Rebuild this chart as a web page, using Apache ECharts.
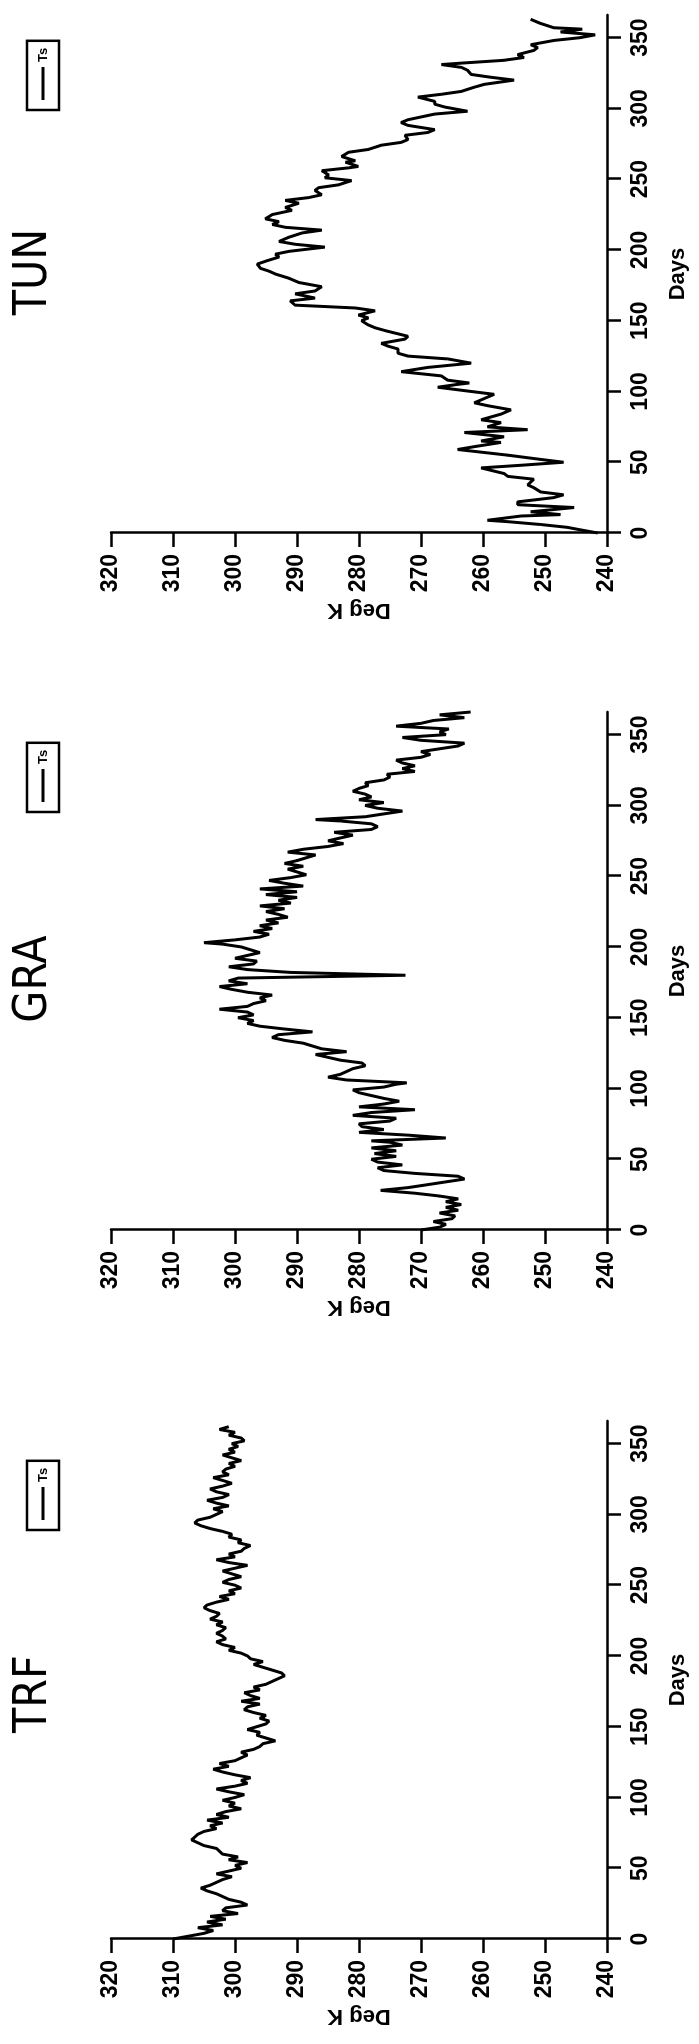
<!DOCTYPE html>
<html><head><meta charset="utf-8">
<script src="https://cdn.jsdelivr.net/npm/echarts@6/dist/echarts.min.js"></script>
<style>
html,body{margin:0;padding:0;background:#fff;overflow:hidden;width:699px;height:2044px;}
#wrap{position:absolute;left:0;top:0;width:2044px;height:699px;transform-origin:0 0;transform:translate(0px,2044px) rotate(-90deg);}
</style></head><body><div id="wrap"></div>
<script>
// Panels in the original (landscape) order, left to right
const panelNames = ['TRF', 'GRA', 'TUN'];
const seriesName = 'Ts';
const dayTicks = [0, 50, 100, 150, 200, 250, 300, 350];
const degTicks = [240, 250, 260, 270, 280, 290, 300, 310, 320];

const tunDays = [0,2,4,6,8,9,12,13,15,18,20,22,25,27,29,32,34,38,40,42,46,48,50,52,55,59,61,64,65,68,71,73,75,78,80,84,87,90,92,95,98,100,103,105,106,108,111,114,117,120,123,125,127,130,132,134,137,139,143,145,147,150,152,154,157,159,161,164,166,169,171,174,177,180,183,185,187,190,192,195,197,199,202,204,206,209,212,214,216,218,220,222,225,228,230,233,235,237,239,242,244,246,249,251,253,256,258,259,262,263,266,269,271,274,276,278,281,283,285,288,290,292,296,298,301,303,305,308,310,312,315,317,320,322,324,327,329,331,332,334,336,338,341,343,345,348,350,352,354,356,357,360,362,363];
const tunTs = [241.5,244,246.4,250.7,256,259.3,253.9,247.5,252.3,245.3,254.4,254.4,248.6,247,250.7,251.8,252.8,251.8,256,256.6,260.3,253.4,247,250.7,256,264.1,261.4,257.1,260.3,256.6,263,252.8,259.3,257.1,260.3,257.1,255.5,259.3,261.4,259.8,258.2,261.9,267.3,264.1,262.2,265.7,266.7,273.2,268.9,261.9,265.7,272.1,273.7,273.7,275.3,276.4,272.6,272.1,275.8,277.4,278.5,279.6,278.5,280.1,277.4,280.6,290.3,291.1,287.1,290.3,287.1,286,289.7,291.3,293.5,294.5,295.9,296.4,295.1,292.9,293.5,291.3,285.5,290.3,292.9,291.3,289.2,286,291.9,294,292.9,295.1,294,290.8,291.9,289.7,291.9,288.1,286,287.1,286.5,283.3,281.2,285.5,284.9,286,281.7,280.1,282.2,280.6,282.8,281.7,278.5,276.4,273.2,272.1,272.6,268.9,267.8,272.1,273.2,272.1,267.8,262.5,266.2,267.8,267.8,270.5,266.7,263.5,261.4,259.8,255,258.7,261.9,262.5,263.5,266.7,263.5,256.6,253.4,254.4,251.8,251.2,252.3,248.6,244.3,241.9,247.5,244,248.6,250.7,251.8,252.3];

const graDays = [0,2,4,6,8,10,12,14,16,18,20,22,24,26,28,30,32,34,36,38,40,42,44,46,48,50,52,54,56,58,60,62,63,65,67,69,71,73,75,77,79,81,83,85,87,89,91,93,95,97,99,101,103,104,106,108,110,112,114,116,118,120,122,124,126,128,130,132,134,136,138,140,142,144,146,148,150,152,154,156,158,160,162,164,166,168,170,172,174,176,178,180,182,184,186,188,190,192,194,196,198,200,202,203,205,207,209,211,213,215,217,219,221,223,225,227,229,231,233,235,237,239,241,243,245,247,249,251,253,255,257,259,261,263,265,267,269,271,273,275,277,279,281,283,285,287,289,290,292,294,296,298,300,302,304,306,308,310,312,314,316,318,320,322,324,326,328,330,332,334,336,338,340,342,344,346,348,350,352,354,356,358,360,362,364,366];
const graTs = [270,267,266,268,265,264.5,267,264,266,263.5,266,264,267,271,276.5,272,269,266,263,264,271,276,277,273,277,278,274,277.5,274,278,273,275,278,266,272,280,276,279.5,280,275,274,281,278,271,280,276,273.5,276,278,280,281,276,274,272.3,282,285,283,282,281,279,279.5,283,285,287,282,286,287.5,289,292,294,293,287.5,292,296,298,297,299.5,297,298,302.5,298,297,295,296,294,298,300.5,302.5,298,301,299.5,272.5,291,298,301,297,296.5,300,298,296,297.5,299,302,305,300,296,294.5,297,294,296,293,295,291.5,293,295,292,296,291,293,290,295,290,296,289,292,294.5,291,288.5,290,291.5,289,292,290,288.5,287,291.5,289,285,282.5,285,283,281,284,278,277,278,283,287,279,276,273,277,279,276,280,278,279,281,280,278.5,279,276,275,275.5,271,273,271,273,274,270,268.5,270,267,264,263,270,273,266,267,265.5,274,270,268,263,267,262];

const trfDays = [0,2,4,6,8,10,12,14,16,18,20,22,24,26,28,30,32,34,36,38,40,42,44,46,48,50,52,54,56,58,60,62,64,66,68,70,72,74,76,78,80,82,84,86,88,90,92,94,96,98,100,102,104,106,108,110,112,114,116,118,120,122,124,126,128,130,132,134,136,138,140,142,144,146,148,150,152,154,156,158,160,162,164,166,168,170,172,174,176,178,180,182,184,186,188,190,192,194,196,198,200,202,204,206,208,210,212,214,216,218,220,222,224,226,228,230,232,234,236,238,240,242,244,246,248,250,252,254,256,258,260,262,264,266,268,270,272,274,276,278,280,282,284,286,288,290,292,294,296,298,300,302,304,306,308,310,312,314,316,318,320,322,324,326,328,330,332,334,336,338,340,342,344,346,348,350,352,354,356,358,360,362];
const trfTs = [310,307.5,305,303.5,306,302,304.5,301.5,304,299.5,302,301.5,298,299,301,302,303,304.5,305.5,304,303,302,300.5,303,301,299,300,298,301,299.5,302,302.5,303,305,306,307,306.5,306,305,303,304,302,304.5,301,303,301.5,299,301,300,302,300,298.5,301,303,300,298,299,297.5,300,302,303.5,301,302.5,300,299,298,299,297,296,295.5,293.5,295,296.5,296,298,296.5,295,294.5,296,295,297,298.5,298,296,299,296,297.5,298.5,296,297,295,294,293,292,292.5,294,295.5,297,295.5,297.5,298,299,301,300,302,303,301.5,302,303,302,301.5,303,302,304,303,302.5,304,305,304.5,303,301,302.5,300,301,299,300,302,301,299,300.5,302,300,298,301,303,300,301,299,298.5,297.5,299.5,299,301,300.5,302,304,305.5,306.5,306,304,303,302,303.5,301,303,304.5,302,301,303,304,302,300.5,302,303.5,301,302,301.5,300,301,299,300.5,302,300,301,299.5,300.5,298.5,299,301,300,302.5,301];

const panelDays = [trfDays, graDays, tunDays];
const panelTs = [trfTs, graTs, tunTs];

// layout (in the unrotated landscape frame)
const gridLefts = [105, 814, 1511];
const gridW = 518, gridTop = 111, gridH = 496;
const titleOffsets = [245, 251, 261];
const legendOffsets = [409, 418, 423];
const FONT = "'Liberation Sans', Arial, sans-serif";
const TITLE_FONT = "'Liberation Sans Narrow', 'DejaVu Sans Condensed', 'Liberation Sans', sans-serif";

const grids = [], xAxes = [], yAxes = [], series = [], legends = [], graphics = [];
panelNames.forEach((name, i) => {
  grids.push({left: gridLefts[i], top: gridTop, width: gridW, height: gridH});
  xAxes.push({
    gridIndex: i, type: 'value', min: 0, max: 366,
    axisLine: {show: true, onZero: false, lineStyle: {color: '#000', width: 2.5}},
    axisTick: {show: true, customValues: dayTicks, length: 14, lineStyle: {color: '#000', width: 2.5}},
    axisLabel: {customValues: dayTicks, margin: 22, fontSize: 23, fontWeight: 'bold', color: '#000', fontFamily: FONT},
    splitLine: {show: false},
    name: 'Days', nameLocation: 'middle', nameGap: 60,
    nameTextStyle: {fontSize: 22, fontWeight: 'bold', color: '#000', fontFamily: FONT}
  });
  yAxes.push({
    gridIndex: i, type: 'value', min: 240, max: 320, interval: 10,
    axisLine: {show: true, onZero: false, lineStyle: {color: '#000', width: 2.5}},
    axisTick: {show: true, length: 14, lineStyle: {color: '#000', width: 2.5}},
    axisLabel: {margin: 21, fontSize: 23, fontWeight: 'bold', color: '#000', fontFamily: FONT},
    splitLine: {show: false},
    name: 'Deg K', nameLocation: 'middle', nameGap: 66,
    nameTextStyle: {fontSize: 22, fontWeight: 'bold', color: '#000', fontFamily: FONT}
  });
  series.push({
    type: 'line', name: seriesName, xAxisIndex: i, yAxisIndex: i,
    symbol: 'none', lineStyle: {color: '#000', width: 3}, itemStyle: {color: '#000'},
    data: panelDays[i].map((d, k) => [d, panelTs[i][k]])
  });
  legends.push({
    data: [seriesName], left: gridLefts[i] + legendOffsets[i], top: 27,
    borderColor: '#000', borderWidth: 2.5, borderRadius: 0, padding: [8, 7, 8, 10],
    icon: 'rect', itemWidth: 33, itemHeight: 3, selectedMode: false,
    textStyle: {fontSize: 13, fontWeight: 'bold', color: '#000', fontFamily: FONT, lineHeight: 16}
  });
  graphics.push({
    type: 'text', x: gridLefts[i] + titleOffsets[i], y: 34,
    style: {text: name, textAlign: 'center', textVerticalAlign: 'middle', fill: '#000',
      font: 'normal 46px ' + TITLE_FONT}
  });
});

const chart = echarts.init(document.getElementById('wrap'), null, {renderer: 'canvas'});
chart.setOption({
  animation: false,
  backgroundColor: '#fff',
  grid: grids, xAxis: xAxes, yAxis: yAxes, series: series, legend: legends,
  graphic: graphics
});
</script></body></html>
